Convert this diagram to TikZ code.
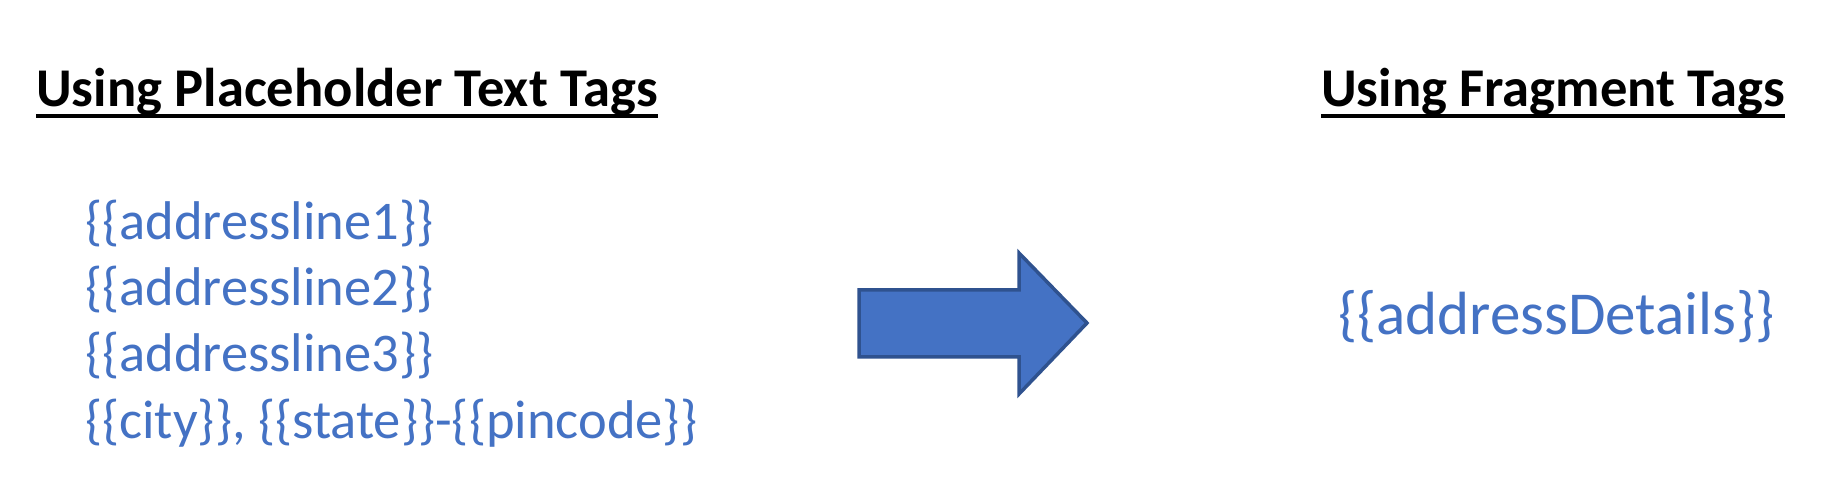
\documentclass[tikz,border=0pt]{standalone}
\usepackage{fontspec}
\setmainfont{Carlito}
\definecolor{tagblue}{HTML}{4472C4}
\definecolor{arrowedge}{HTML}{2F528F}
\begin{document}
\begin{tikzpicture}[x=1pt,y=1pt,
  title/.style={anchor=base west,inner sep=0pt,font=\fontsize{54.6}{60}\selectfont\bfseries},
  tag/.style={anchor=base west,inner sep=0pt,text=tagblue,font=\fontsize{54.5}{60}\selectfont},
  uline/.style={line width=4pt,black}]
\useasboundingbox (0,0) rectangle (1838,498);
\node[title] (t1) at (36,391) {Using Placeholder Text Tags};
\node[title] (t2) at (1321,391) {Using Fragment Tags};
\draw[uline] ([yshift=-9pt]t1.base west) -- ([yshift=-9pt]t1.base east);
\draw[uline] ([yshift=-9pt]t2.base west) -- ([yshift=-9pt]t2.base east);
\node[tag] (l1) at (85,258) {\{\{addressline1\}\}};
\node[tag] (l2) at (85,192) {\{\{addressline2\}\}};
\node[tag] (l3) at (85,126) {\{\{addressline3\}\}};
\node[tag] (l4) at (85,60) {\{\{city\}\}, \{\{state\}\}-\{\{pincode\}\}};
\node[tag,font=\fontsize{61}{66}\selectfont] (frag) at (1338,163) {\{\{addressDetails\}\}};
\draw[fill=tagblue,draw=arrowedge,line width=3.5pt,line join=miter]
  (859,208) -- (859,141) -- (1019,141) -- (1019,104) -- (1087,175)
  -- (1019,245) -- (1019,208) -- cycle;
\end{tikzpicture}
\end{document}
